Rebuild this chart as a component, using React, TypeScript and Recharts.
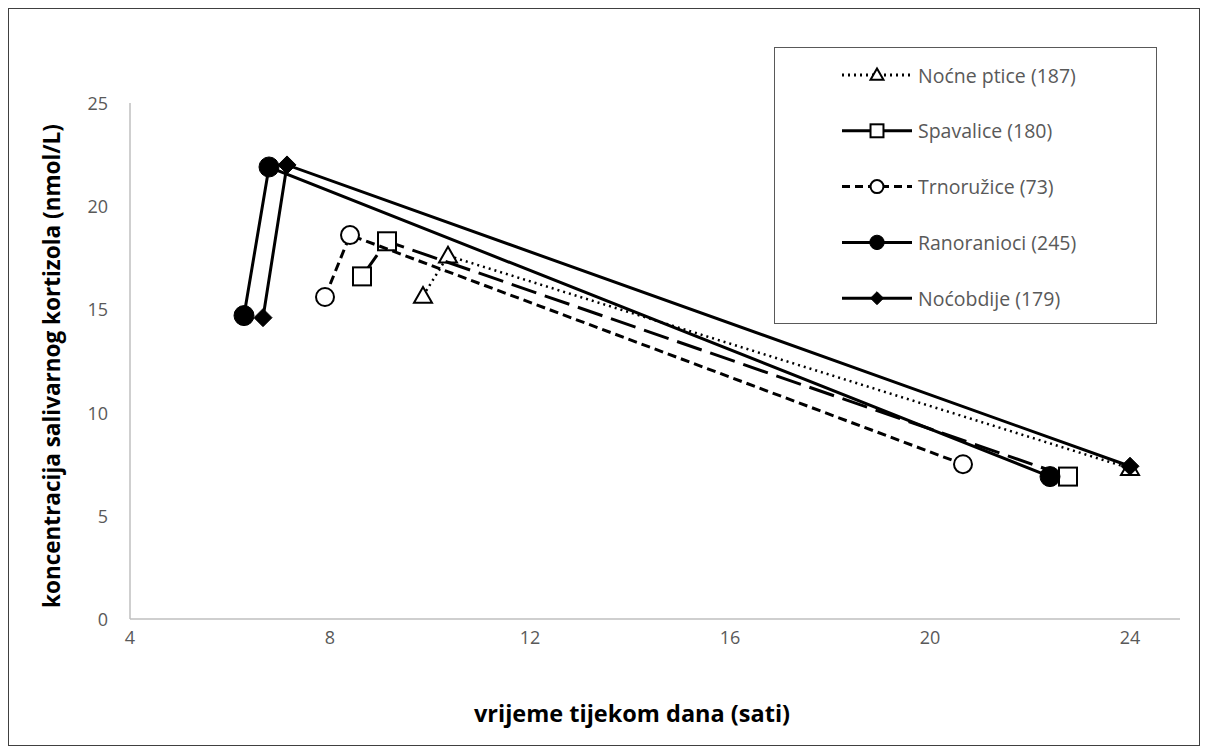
import React from "react";
import { ScatterChart, Scatter, XAxis, YAxis, Legend } from "recharts";

const nocnePticeX = [9.86, 10.36, 24.0];
const nocnePticeY = [15.65, 17.6, 7.3];
const spavaliceX = [8.64, 9.14, 22.76];
const spavaliceY = [16.6, 18.3, 6.9];
const trnoruziceX = [7.9, 8.4, 20.66];
const trnoruziceY = [15.6, 18.6, 7.5];
const ranoraniociX = [6.28, 6.78, 22.4];
const ranoraniociY = [14.7, 21.9, 6.9];
const nocobdijeX = [6.66, 7.14, 24.0];
const nocobdijeY = [14.6, 22.0, 7.4];

const xTicks = [4, 8, 12, 16, 20, 24];
const yTicks = [0, 5, 10, 15, 20, 25];

const seriesNames = [
  "Noćne ptice (187)",
  "Spavalice (180)",
  "Trnoružice (73)",
  "Ranoranioci (245)",
  "Noćobdije (179)",
];

const zip = (xs: number[], ys: number[]) => xs.map((x, i) => ({ x, y: ys[i] }));

const FONT = "'Open Sans', 'Noto Sans', sans-serif";

type Kind = "triangle" | "square" | "circle" | "dot" | "diamond";

function Marker({ kind, cx, cy, scale = 1 }: { kind: Kind; cx: number; cy: number; scale?: number }) {
  if (cx == null || cy == null) return null;
  const s = scale;
  switch (kind) {
    case "triangle": {
      const h = 9 * s;
      return (
        <polygon
          points={`${cx},${cy - h} ${cx - h},${cy + h * 0.75} ${cx + h},${cy + h * 0.75}`}
          fill="#fff"
          stroke="#000"
          strokeWidth={2}
        />
      );
    }
    case "square": {
      const h = 9 * s;
      return <rect x={cx - h} y={cy - h} width={2 * h} height={2 * h} fill="#fff" stroke="#000" strokeWidth={2} />;
    }
    case "circle":
      return <circle cx={cx} cy={cy} r={9 * s} fill="#fff" stroke="#000" strokeWidth={2} />;
    case "dot":
      return <circle cx={cx} cy={cy} r={10 * s} fill="#000" stroke="#000" strokeWidth={1} />;
    case "diamond": {
      const h = 9 * s;
      return (
        <polygon
          points={`${cx},${cy - h} ${cx + h},${cy} ${cx},${cy + h} ${cx - h},${cy}`}
          fill="#000"
          stroke="#000"
          strokeWidth={1}
        />
      );
    }
  }
  return null;
}

const legendItems: { name: string; kind: Kind; dash?: string }[] = [
  { name: seriesNames[0], kind: "triangle", dash: "2 4" },
  { name: seriesNames[1], kind: "square" },
  { name: seriesNames[2], kind: "circle", dash: "8 5" },
  { name: seriesNames[3], kind: "dot" },
  { name: seriesNames[4], kind: "diamond" },
];

function LegendBox() {
  return (
    <svg width={383} height={277} style={{ display: "block" }}>
      <rect x={0.5} y={0.5} width={382} height={276} fill="#fff" stroke="#595959" strokeWidth={1} />
      {legendItems.map((it, i) => {
        const cy = 28 + i * 55.8;
        return (
          <g key={it.name}>
            <line x1={68} x2={138} y1={cy} y2={cy} stroke="#000" strokeWidth={3} strokeDasharray={it.dash} />
            <Marker kind={it.kind} cx={103} cy={cy} scale={0.72} />
            <text x={144} y={cy} dominantBaseline="central" fontFamily={FONT} fontSize={19.5} fill="#595959">
              {it.name}
            </text>
          </g>
        );
      })}
    </svg>
  );
}

const XTick = (props: any) => {
  const { x, y, payload } = props;
  return (
    <text x={x} y={y + 18} textAnchor="middle" dominantBaseline="central" fontFamily={FONT} fontSize={18} fill="#595959">
      {payload.value}
    </text>
  );
};

const YTick = (props: any) => {
  const { x, y, payload } = props;
  return (
    <text x={x - 22} y={y} textAnchor="end" dominantBaseline="central" fontFamily={FONT} fontSize={18} fill="#595959">
      {payload.value}
    </text>
  );
};

export default function App() {
  return (
    <div
      style={{
        position: "relative",
        width: 1190,
        height: 736,
        border: "1px solid #404040",
        background: "#fff",
      }}
    >
      <ScatterChart width={1190} height={736} margin={{ top: 94, right: 19, bottom: 96, left: 61 }}>
        <XAxis
          type="number"
          dataKey="x"
          domain={[4, 25]}
          ticks={xTicks}
          height={30}
          tickSize={0}
          tickMargin={0}
          tickLine={false}
          axisLine={{ stroke: "#bfbfbf", strokeWidth: 1.5 }}
          tick={<XTick />}
          interval={0}
          allowDataOverflow
        />
        <YAxis
          type="number"
          dataKey="y"
          domain={[0, 25]}
          ticks={yTicks}
          width={60}
          tickSize={0}
          tickMargin={0}
          tickLine={false}
          axisLine={{ stroke: "#bfbfbf", strokeWidth: 1.5 }}
          tick={<YTick />}
          interval={0}
          allowDataOverflow
        />
        <Legend
          layout="vertical"
          align="center"
          verticalAlign="middle"
          wrapperStyle={{ position: "absolute", top: 38, left: 765, width: 383, height: 277 }}
          content={() => <LegendBox />}
        />
        <Scatter
          name={seriesNames[0]}
          data={zip(nocnePticeX, nocnePticeY)}
          line={{ stroke: "#000", strokeWidth: 2.5, strokeDasharray: "2 4" }}
          shape={(p: any) => <Marker kind="triangle" cx={p.cx} cy={p.cy} />}
          isAnimationActive={false}
        />
        <Scatter
          name={seriesNames[1]}
          data={zip(spavaliceX, spavaliceY)}
          line={{ stroke: "#000", strokeWidth: 3, strokeDasharray: "26 9" }}
          shape={(p: any) => <Marker kind="square" cx={p.cx} cy={p.cy} />}
          isAnimationActive={false}
        />
        <Scatter
          name={seriesNames[2]}
          data={zip(trnoruziceX, trnoruziceY)}
          line={{ stroke: "#000", strokeWidth: 3, strokeDasharray: "9 5" }}
          shape={(p: any) => <Marker kind="circle" cx={p.cx} cy={p.cy} />}
          isAnimationActive={false}
        />
        <Scatter
          name={seriesNames[3]}
          data={zip(ranoraniociX, ranoraniociY)}
          line={{ stroke: "#000", strokeWidth: 3 }}
          shape={(p: any) => <Marker kind="dot" cx={p.cx} cy={p.cy} />}
          isAnimationActive={false}
        />
        <Scatter
          name={seriesNames[4]}
          data={zip(nocobdijeX, nocobdijeY)}
          line={{ stroke: "#000", strokeWidth: 3 }}
          shape={(p: any) => <Marker kind="diamond" cx={p.cx} cy={p.cy} />}
          isAnimationActive={false}
        />
      </ScatterChart>
      <div
        style={{
          position: "absolute",
          left: 42,
          top: 357,
          transform: "translate(-50%, -50%) rotate(-90deg)",
          whiteSpace: "nowrap",
          fontFamily: FONT,
          fontWeight: 700,
          fontSize: 22.5,
          color: "#000",
        }}
      >
        koncentracija salivarnog kortizola (nmol/L)
      </div>
      <div
        style={{
          position: "absolute",
          left: 623,
          top: 704,
          transform: "translate(-50%, -50%)",
          whiteSpace: "nowrap",
          fontFamily: FONT,
          fontWeight: 700,
          fontSize: 23.5,
          color: "#000",
        }}
      >
        vrijeme tijekom dana (sati)
      </div>
    </div>
  );
}
